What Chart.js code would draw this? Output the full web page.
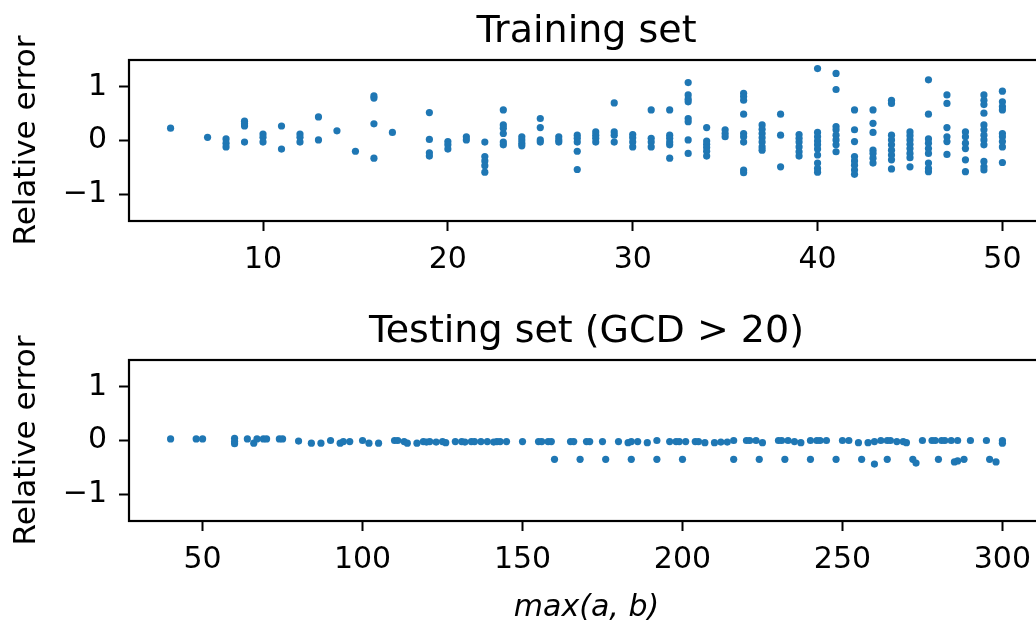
<!DOCTYPE html>
<html>
<head>
<meta charset="utf-8">
<script src="https://cdn.jsdelivr.net/npm/chart.js@4"></script>
<style>
  html, body { margin: 0; padding: 0; background: #fff; overflow: hidden; }
  #wrap { position: relative; width: 1036px; height: 624px; overflow: hidden; }
  .box { position: absolute; left: 0; width: 1060px; }
</style>
</head>
<body>
<div id="wrap">
  <div class="box" style="top:0;height:300px"><canvas id="train"></canvas></div>
  <div class="box" style="top:300px;height:326px"><canvas id="test"></canvas></div>
</div>
<script>
// training set: one x value per column, the errors stacked in that column
const trainX = [5, 7, 8, 9, 10, 11, 12, 13, 14, 15, 16, 17, 19, 20, 21, 22, 23, 24, 25, 26, 27, 28, 29, 30,
  31, 32, 33, 34, 35, 36, 37, 38, 39, 40, 41, 42, 43, 44, 45, 46, 47, 48, 49, 50];
const trainErr = [
  [0.23], [0.06], [0.03, -0.05, -0.12], [0.36, 0.31, 0.27, -0.03], [0.12, 0.06, -0.03],
  [0.27, -0.16], [0.12, 0.06, -0.03], [0.44, 0.01], [0.18], [-0.2],
  [0.83, 0.79, 0.31, -0.33], [0.15], [0.52, 0.02, -0.23, -0.29], [-0.02, -0.08, -0.16], [0.07, 0.01],
  [-0.03, -0.3, -0.38, -0.47, -0.59], [0.57, 0.29, 0.23, 0.13, -0.03, -0.08], [0.07, 0.01, -0.05, -0.1],
  [0.41, 0.24, 0.01, -0.03], [0.07, 0.01, -0.03], [0.1, 0.04, -0.03, -0.2, -0.54],
  [0.16, 0.1, 0.04, -0.03], [0.7, 0.16, 0.1, -0.03], [0.11, 0.05, -0.03, -0.12],
  [0.57, 0.04, -0.03, -0.12], [0.57, 0.1, 0.04, -0.03, -0.08, -0.33],
  [1.08, 0.85, 0.77, 0.72, 0.41, 0.35, 0.01, -0.24], [0.24, -0.01, -0.07, -0.13, -0.2, -0.29],
  [0.2, 0.13, 0.07], [0.88, 0.82, 0.75, 0.49, 0.13, 0.07, -0.03, -0.55, -0.6],
  [0.29, 0.21, 0.13, 0.05, -0.03, -0.12, -0.18], [0.49, 0.1, -0.49],
  [0.11, 0.04, -0.03, -0.12, -0.21, -0.29],
  [1.34, 0.15, 0.07, -0.01, -0.08, -0.16, -0.27, -0.42, -0.52, -0.59],
  [1.25, 0.95, 0.26, 0.2, 0.1, 0.01, -0.08, -0.21],
  [0.57, 0.2, -0.02, -0.3, -0.38, -0.46, -0.55, -0.63],
  [0.57, 0.32, 0.15, -0.18, -0.24, -0.33, -0.42],
  [0.75, 0.69, 0.1, 0.01, -0.08, -0.18, -0.27, -0.36, -0.53],
  [0.16, 0.09, 0.01, -0.07, -0.15, -0.24, -0.32, -0.49],
  [1.13, 0.49, 0.03, -0.05, -0.15, -0.24, -0.42, -0.52, -0.58],
  [0.85, 0.69, 0.24, 0.07, -0.02, -0.26], [0.16, 0.07, -0.05, -0.15, -0.36, -0.58],
  [0.85, 0.75, 0.67, 0.51, 0.29, 0.2, 0.1, 0.01, -0.08, -0.39, -0.49, -0.55],
  [0.92, 0.72, 0.63, 0.57, 0.13, 0.07, -0.02, -0.12, -0.41]
];

// testing set (GCD > 20): points near zero, then the lower band
const testX = [40, 48, 50, 60, 60, 60, 64, 66, 67, 69, 70, 74, 75, 80, 84, 87, 90, 93, 94, 96, 100, 102, 105,
  110, 111, 113, 114, 117, 119, 120, 121, 123, 125, 126, 129, 131, 132, 134, 135, 137, 139, 141, 142, 143, 145,
  150, 155, 156, 158, 159, 165, 166, 170, 171, 175, 180, 183, 184, 186, 189, 192, 196, 198, 199, 201, 204, 205,
  207, 210, 212, 214, 216, 220, 221, 223, 225, 230, 231, 233, 235, 237, 240, 242, 243, 245, 250, 252, 255, 258,
  260, 262, 264, 265, 267, 269, 270, 275, 278, 279, 281, 282, 284, 286, 290, 295, 300, 300,
  160, 168, 176, 184, 192, 200, 216, 224, 232, 240, 248, 256, 260, 264, 272, 273, 280, 285, 286, 288, 296, 298];
const testErr = [0.03, 0.03, 0.03, 0.04, -0.02, -0.06, 0.03, -0.05, 0.03, 0.03, 0.03, 0.03, 0.03, -0.01, -0.05,
  -0.05, 0, -0.05, -0.02, -0.02, 0, -0.05, -0.05, 0, 0, -0.02, -0.05, -0.05, -0.02, -0.03, -0.02, -0.03, -0.02,
  -0.04, -0.02, -0.02, -0.03, -0.02, -0.02, -0.02, -0.02, -0.03, -0.02, -0.02, -0.02, -0.02, -0.02, -0.02, -0.02,
  -0.02, -0.02, -0.02, -0.02, -0.02, -0.02, -0.02, -0.04, -0.02, -0.02, -0.04, 0, -0.02, -0.02, -0.02, -0.02,
  -0.02, -0.02, -0.04, -0.04, -0.03, -0.03, 0, 0, 0, 0, -0.04, 0, 0, 0, -0.02, -0.04, 0, 0, 0, 0, 0, 0, -0.04,
  -0.04, -0.02, 0, 0, 0, -0.02, -0.02, -0.04, 0, 0, 0, 0, 0, 0, 0, 0, 0, 0, -0.05,
  -0.35, -0.35, -0.35, -0.35, -0.35, -0.35, -0.35, -0.35, -0.35, -0.35, -0.35, -0.35, -0.44, -0.35, -0.35,
  -0.42, -0.35, -0.4, -0.38, -0.35, -0.35, -0.4];

const yTicks = [-1, 0, 1];
const trainTicks = [10, 20, 30, 40, 50];
const testTicks = [50, 100, 150, 200, 250, 300];

const FONT = 'DejaVu Sans';
const BLUE = '#1f77b4';

const trainPts = [];
trainX.forEach((x, i) => trainErr[i].forEach(e => trainPts.push({x: x, y: e})));
const testPts = testX.map((x, i) => ({x: x, y: testErr[i]}));

const frame = {
  id: 'frame',
  afterDatasetsDraw(chart) {
    const a = chart.chartArea, c = chart.ctx;
    c.save();
    c.strokeStyle = '#000';
    c.lineWidth = 2.2;
    c.strokeRect(a.left, a.top, a.right - a.left, a.bottom - a.top);
    c.restore();
  }
};

function minus(v) { return v < 0 ? '\u2212' + Math.abs(v) : String(v); }

function makePlot(id, pts, title, xMin, xMax, xTicks, xTitle, xH) {
  const tickFont = {family: FONT, size: 30};
  new Chart(document.getElementById(id), {
    type: 'scatter',
    data: {datasets: [{data: pts, backgroundColor: BLUE, borderWidth: 0, pointRadius: 3.6, pointHoverRadius: 3.6}]},
    options: {
      responsive: true,
      maintainAspectRatio: false,
      animation: false,
      layout: {padding: {left: 0, right: 16, top: 0, bottom: 0}, autoPadding: false},
      plugins: {
        legend: {display: false},
        tooltip: {enabled: false},
        title: {display: true, text: title, fullSize: false, color: '#000',
          font: {family: FONT, size: 38, weight: 'normal'}, padding: {top: 9, bottom: 5.4}}
      },
      scales: {
        x: {
          type: 'linear', min: xMin, max: xMax,
          afterBuildTicks: s => { s.ticks = xTicks.map(v => ({value: v})); },
          afterFit: s => { s.height = xH; },
          ticks: {font: tickFont, color: '#000', padding: 11, maxRotation: 0, autoSkip: false},
          grid: {drawOnChartArea: false, drawTicks: true, tickLength: 10, tickWidth: 2, tickColor: '#000'},
          border: {display: false},
          title: {display: !!xTitle, text: xTitle, color: '#000',
            font: {family: FONT, size: 30, style: 'italic'}, padding: {top: 0, bottom: 0}}
        },
        y: {
          min: -1.5, max: 1.5,
          afterBuildTicks: s => { s.ticks = yTicks.map(v => ({value: v})); },
          afterFit: s => { s.width = 129; },
          ticks: {font: tickFont, color: '#000', padding: 12, callback: minus},
          grid: {drawOnChartArea: false, drawTicks: true, tickLength: 10, tickWidth: 2, tickColor: '#000'},
          border: {display: false},
          title: {display: true, text: 'Relative error', color: '#000',
            font: {family: FONT, size: 31}, padding: {top: 8, bottom: 0}}
        }
      }
    },
    plugins: [frame]
  });
}

makePlot('train', trainPts, 'Training set', 2.75, 52.25, trainTicks, '', 79);
makePlot('test', testPts, 'Testing set (GCD > 20)', 27, 313, testTicks, 'max(a, b)', 105);
</script>
</body>
</html>
